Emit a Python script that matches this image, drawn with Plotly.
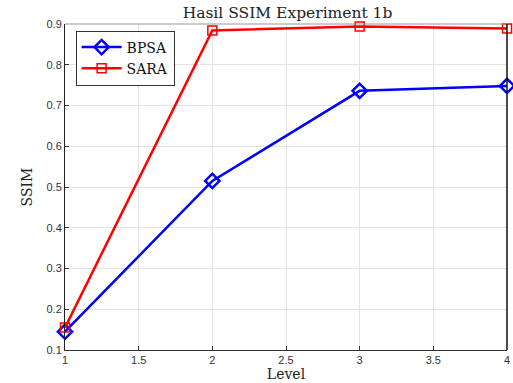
import plotly.graph_objects as go

levels = [1, 2, 3, 4]
bpsa = [0.145, 0.515, 0.736, 0.748]
sara = [0.155, 0.884, 0.894, 0.889]
x_ticks = [1, 1.5, 2, 2.5, 3, 3.5, 4]
y_ticks = [0.1, 0.2, 0.3, 0.4, 0.5, 0.6, 0.7, 0.8, 0.9]

fig = go.Figure()
fig.add_trace(go.Scatter(x=levels, y=bpsa, mode="lines+markers", name="BPSA",
                         line=dict(color="#0000ff", width=2.5),
                         marker=dict(symbol="diamond-open", size=11, color="#0000ff", line=dict(width=2.5)),
                         cliponaxis=False))
fig.add_trace(go.Scatter(x=levels, y=sara, mode="lines+markers", name="SARA",
                         line=dict(color="#ff0000", width=2.5),
                         marker=dict(symbol="square-open", size=9, color="#ff0000", line=dict(width=1.5)),
                         cliponaxis=False))

fig.update_layout(
    width=513, height=383,
    margin=dict(l=65, r=3, t=24, b=33),
    paper_bgcolor="white", plot_bgcolor="white",
    title=dict(text="Hasil SSIM Experiment 1b", x=0.5605, xanchor="center", y=0.966, yanchor="middle",
               font=dict(family="DejaVu Serif", size=15.5, color="#222")),
    showlegend=True,
    legend=dict(x=0.024, y=0.98, xanchor="left", yanchor="top",
                bgcolor="white", bordercolor="#333", borderwidth=1,
                font=dict(family="DejaVu Serif", size=14, color="#111"),
                tracegroupgap=0, itemwidth=40),
    xaxis=dict(range=[1, 4], tickvals=x_ticks, ticktext=[str(v) for v in x_ticks],
               showgrid=True, gridcolor="#e3e3e3", gridwidth=1,
               ticks="inside", ticklen=4, tickcolor="#333",
               showline=True, linecolor="#333", linewidth=1, mirror=False,
               zeroline=False, ticklabeloverflow="allow",
               tickfont=dict(family="Liberation Sans", size=11, color="#333"),
               title=dict(text="Level", font=dict(family="DejaVu Serif", size=14, color="#222"), standoff=3)),
    yaxis=dict(range=[0.1, 0.9], tickvals=y_ticks, ticktext=[str(v) for v in y_ticks],
               showgrid=True, gridcolor="#e3e3e3", gridwidth=1,
               ticks="inside", ticklen=4, tickcolor="#333",
               showline=True, linecolor="#222", linewidth=1, mirror=False,
               zeroline=False,
               tickfont=dict(family="Liberation Sans", size=11, color="#333"),
               title=dict(text="SSIM", font=dict(family="DejaVu Serif", size=14, color="#222"), standoff=10)),
)
# top (gray) and right (black) box lines
fig.add_shape(type="line", xref="paper", yref="paper", x0=0, x1=1, y0=1, y1=1,
              line=dict(color="#999", width=1))
fig.add_shape(type="line", xref="paper", yref="paper", x0=1, x1=1, y0=0, y1=1,
              line=dict(color="#111", width=1.5))

fig.write_html("out.html")
